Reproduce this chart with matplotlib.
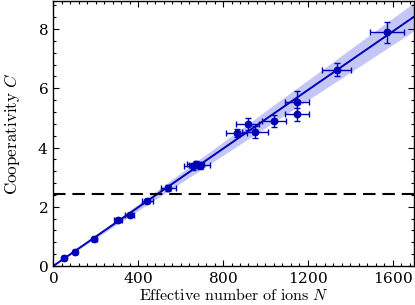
import numpy as np
import matplotlib
matplotlib.use("Agg")
import matplotlib.pyplot as plt
from matplotlib.ticker import MultipleLocator

plt.rcParams["mathtext.fontset"] = "cm"
plt.rcParams["font.family"] = "serif"
plt.rcParams["font.serif"] = ["DejaVu Serif"]
plt.rcParams["axes.formatter.use_mathtext"] = True

# measured points (effective ion number N, cooperativity C)
N = [50, 102, 193, 306, 360, 443, 542, 660, 672, 690,
     864, 916, 950, 1041, 1149, 1149, 1335, 1573]
C = [0.26, 0.48, 0.91, 1.55, 1.73, 2.19, 2.64, 3.36, 3.44, 3.40,
     4.50, 4.79, 4.52, 4.90, 5.13, 5.54, 6.63, 7.89]
N_err = [8, 10, 12, 18, 20, 25, 35, 45, 40, 50,
         49, 53, 61, 55, 58, 57, 68, 82]
C_err = [0.03, 0.03, 0.04, 0.06, 0.06, 0.08, 0.10, 0.12, 0.12, 0.12,
         0.14, 0.21, 0.21, 0.21, 0.22, 0.36, 0.21, 0.35]

slope = 0.00495
slope_err = 0.00028
threshold = 2.43

blue = "#0000b4"
band = "#c4c6f7"

fig = plt.figure(figsize=(4.15, 3.05), dpi=100)
ax = fig.add_axes([0.1285, 0.128, 0.869, 0.869])

xf = np.linspace(0, 1700, 200)
ax.fill_between(xf, (slope - slope_err) * xf, (slope + slope_err) * xf,
                color=band, lw=0, zorder=1)
ax.plot(xf, slope * xf, color=blue, lw=1.4, zorder=2)
ax.axhline(threshold, color="black", lw=1.5, ls=(0, (6, 3.3)), zorder=2)
ax.errorbar(N, C, xerr=N_err, yerr=C_err, fmt="o", color=blue, ms=4.6,
            elinewidth=1.0, capsize=2.5, capthick=1.0, zorder=3)

ax.set_xlim(0, 1700)
ax.set_ylim(0, 8.95)
ax.xaxis.set_major_locator(MultipleLocator(400))
ax.xaxis.set_minor_locator(MultipleLocator(40))
ax.yaxis.set_major_locator(MultipleLocator(2))
ax.yaxis.set_minor_locator(MultipleLocator(0.4))
ax.tick_params(which="both", direction="in", top=True, right=True,
               labelsize=11, width=0.8)
ax.tick_params(which="major", length=4)
ax.tick_params(which="minor", length=2)
for s in ax.spines.values():
    s.set_linewidth(1.0)

ax.set_xlabel(r"$\mathrm{Effective\ number\ of\ ions}\ N$", fontsize=11.5, labelpad=1)
ax.set_ylabel(r"$\mathrm{Cooperativity}\ C$", fontsize=12.3, labelpad=11)

fig.savefig("out.png", dpi=100)
